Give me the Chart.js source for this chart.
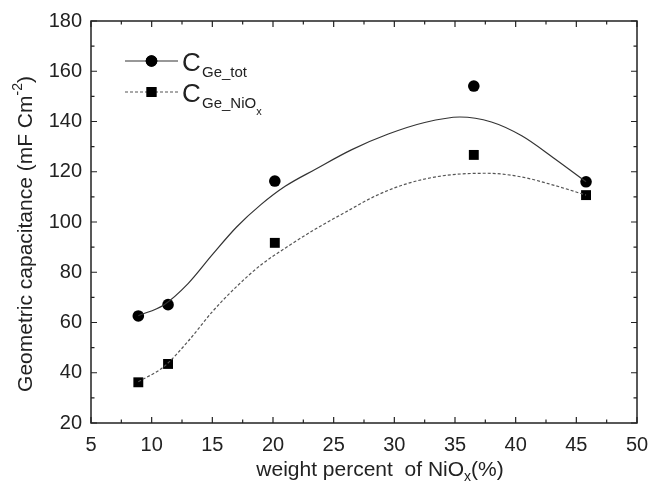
<!DOCTYPE html>
<html>
<head>
<meta charset="utf-8">
<script src="https://cdn.jsdelivr.net/npm/chart.js@4.4.1/dist/chart.umd.min.js"></script>
<style>
  body { margin: 0; background: #fff; }
  #wrap { width: 649px; height: 485px; }
</style>
</head>
<body>
<div id="wrap"><canvas id="myChart" width="649" height="485"></canvas></div>
<script>
// measured points
var xPts = [8.9, 11.35, 20.15, 36.55, 45.8];
var totVals = [62.6, 67.1, 116.3, 154.1, 116.0];
var nioVals = [36.2, 43.5, 91.7, 126.7, 110.7];

// fitted curves
var totFitX = [8.9, 11.0, 13.0, 15.0, 17.0, 19.0, 21.0, 23.5, 26.5, 29.5, 32.5, 35.4, 38.0, 40.5, 43.1, 45.8];
var totFit = [62.7, 67.0, 75.5, 87.0, 98.0, 106.9, 114.2, 121.0, 128.8, 135.0, 139.6, 141.8, 139.8, 134.3, 125.6, 116.0];
var nioFitX = [8.9, 11.0, 13.0, 15.0, 17.0, 19.0, 21.0, 23.5, 26.0, 28.5, 31.0, 34.0, 37.6, 40.4, 43.1, 45.8];
var nioFit = [36.4, 42.4, 52.5, 64.3, 74.3, 82.9, 89.6, 97.2, 104.0, 110.5, 115.2, 118.4, 119.4, 118.0, 114.7, 110.7];

var xTicks = [5, 10, 15, 20, 25, 30, 35, 40, 45, 50];
var yTicks = [20, 40, 60, 80, 100, 120, 140, 160, 180];

function pairs(xs, ys) {
  return xs.map(function (x, i) { return { x: x, y: ys[i] }; });
}

var textCol = "#222";
var fontFam = "'Liberation Sans', Arial, sans-serif";

// frame, inward ticks, axis titles and legend
var decor = {
  id: "decor",
  afterDraw: function (chart) {
    var ctx = chart.ctx;
    var a = chart.chartArea;
    var xs = chart.scales.x, ys = chart.scales.y;
    ctx.save();
    ctx.strokeStyle = "#222";
    ctx.lineWidth = 1.5;
    ctx.strokeRect(a.left, a.top, a.right - a.left, a.bottom - a.top);

    ctx.lineWidth = 1.2;
    ctx.beginPath();
    for (var v = 5; v <= 50; v += 2.5) {
      var px = xs.getPixelForValue(v);
      var len = (v % 5 === 0) ? 6 : 3.5;
      ctx.moveTo(px, a.bottom); ctx.lineTo(px, a.bottom - len);
      ctx.moveTo(px, a.top); ctx.lineTo(px, a.top + len);
    }
    for (var w = 20; w <= 180; w += 10) {
      var py = ys.getPixelForValue(w);
      var len2 = (w % 20 === 0) ? 6 : 3.5;
      ctx.moveTo(a.left, py); ctx.lineTo(a.left + len2, py);
      ctx.moveTo(a.right, py); ctx.lineTo(a.right - len2, py);
    }
    ctx.stroke();

    ctx.fillStyle = textCol;
    ctx.textBaseline = "alphabetic";
    ctx.textAlign = "left";

    // x title
    var big = "21px " + fontFam, small = "14px " + fontFam;
    var t1 = "weight percent  of NiO";
    var t2 = "(%)";
    ctx.font = small;
    var wsub = ctx.measureText("x").width;
    ctx.font = big;
    var wx = ctx.measureText(t1).width + wsub + ctx.measureText(t2).width;
    var sx = 380 - wx / 2, by = 476;
    ctx.fillText(t1, sx, by);
    sx += ctx.measureText(t1).width;
    ctx.font = small;
    ctx.fillText("x", sx, by + 5);
    sx += wsub;
    ctx.font = big;
    ctx.fillText(t2, sx, by);

    // y title
    ctx.save();
    ctx.translate(32, 234);
    ctx.rotate(-Math.PI / 2);
    var y1 = "Geometric capacitance (mF Cm";
    var y2 = ")";
    ctx.font = small;
    var wsup = ctx.measureText("-2").width;
    ctx.font = big;
    var wy = ctx.measureText(y1).width + wsup + ctx.measureText(y2).width;
    var s = -wy / 2;
    ctx.fillText(y1, s, 0);
    s += ctx.measureText(y1).width;
    ctx.font = small;
    ctx.fillText("-2", s, -10);
    s += wsup;
    ctx.font = big;
    ctx.fillText(y2, s, 0);
    ctx.restore();

    // legend
    var rows = [
      { y: 61, dash: [], col: "#333", style: "circle", sub: "Ge_tot", sub2: "" },
      { y: 92, dash: [3, 2], col: "#555", style: "rect", sub: "Ge_NiO", sub2: "x" }
    ];
    rows.forEach(function (r) {
      ctx.save();
      ctx.strokeStyle = r.col;
      ctx.lineWidth = 1.1;
      ctx.setLineDash(r.dash);
      ctx.beginPath();
      ctx.moveTo(125, r.y); ctx.lineTo(178, r.y);
      ctx.stroke();
      ctx.restore();
      ctx.fillStyle = "#000";
      Chart.helpers.drawPoint(ctx, { pointStyle: r.style, radius: r.style === "rect" ? 7 : 5.8, rotation: 0, borderWidth: 0 }, 151.5, r.y);
      ctx.fill();
      ctx.fillStyle = textCol;
      ctx.font = "26px " + fontFam;
      ctx.fillText("C", 182, r.y + 10);
      ctx.font = "15px " + fontFam;
      ctx.fillText(r.sub, 202, r.y + 16);
      if (r.sub2) {
        var ws = ctx.measureText(r.sub).width;
        ctx.font = "11px " + fontFam;
        ctx.fillText(r.sub2, 202 + ws, r.y + 23);
      }
    });
    ctx.restore();
  }
};

var mychart = new Chart("myChart", {
  type: "scatter",
  data: {
    datasets: [
      {
        data: pairs(totFitX, totFit),
        showLine: true,
        borderColor: "#333",
        borderWidth: 1.2,
        pointRadius: 0,
        cubicInterpolationMode: "monotone"
      },
      {
        data: pairs(nioFitX, nioFit),
        showLine: true,
        borderColor: "#555",
        borderWidth: 1.2,
        borderDash: [3, 2],
        pointRadius: 0,
        cubicInterpolationMode: "monotone"
      },
      {
        data: pairs(xPts, totVals),
        pointStyle: "circle",
        pointRadius: 5.8,
        backgroundColor: "#000",
        borderWidth: 0
      },
      {
        data: pairs(xPts, nioVals),
        pointStyle: "rect",
        pointRadius: 7,
        backgroundColor: "#000",
        borderWidth: 0
      }
    ]
  },
  options: {
    responsive: false,
    animation: false,
    layout: { padding: { top: 21, right: 12, left: 0, bottom: 0 } },
    plugins: { legend: { display: false }, tooltip: { enabled: false } },
    scales: {
      x: {
        type: "linear",
        min: 5, max: 50,
        afterBuildTicks: function (s) { s.ticks = xTicks.map(function (v) { return { value: v }; }); },
        afterFit: function (s) { s.height = 62; s.paddingLeft = 0; s.paddingRight = 0; },
        grid: { display: false, drawTicks: false },
        border: { display: false },
        ticks: { color: textCol, font: { size: 20, family: fontFam }, padding: 10, maxRotation: 0 }
      },
      y: {
        min: 20, max: 180,
        afterBuildTicks: function (s) { s.ticks = yTicks.map(function (v) { return { value: v }; }); },
        afterFit: function (s) { s.width = 91; s.paddingTop = 0; s.paddingBottom = 0; },
        grid: { display: false, drawTicks: false },
        border: { display: false },
        ticks: { color: textCol, font: { size: 20, family: fontFam }, padding: 9 }
      }
    }
  },
  plugins: [decor]
});
</script>
</body>
</html>
